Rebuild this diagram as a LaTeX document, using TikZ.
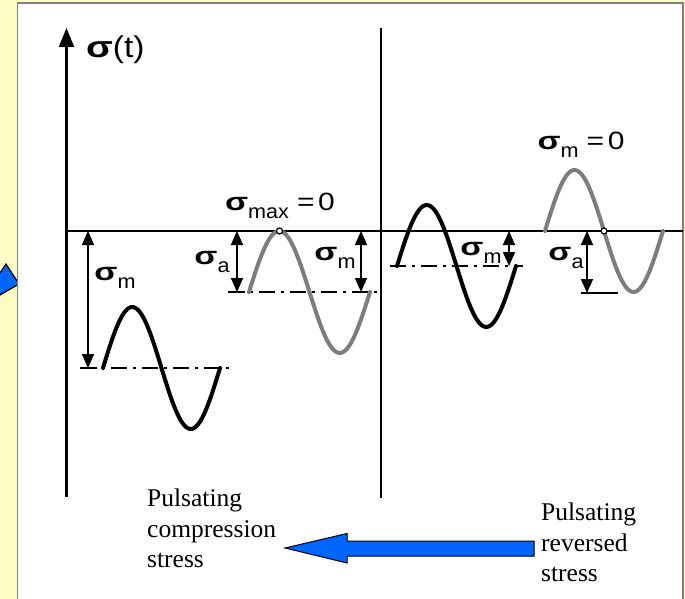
\documentclass[tikz,border=0pt]{standalone}
\usepackage{fontspec}
\usepackage{graphicx}
\setmainfont{Liberation Sans}
\newfontfamily\serifnm{Liberation Serif}
\usetikzlibrary{arrows.meta}
\definecolor{bgyellow}{RGB}{255,251,196}
\definecolor{arrowblue}{RGB}{0,102,255}
\definecolor{wavegray}{RGB}{125,125,125}
\newcommand\bsig{\scalebox{1.35}[1]{\textbf{σ}}}
\newcommand\sg[1]{\bsig\raisebox{-0.3em}{\fontsize{20}{20}\selectfont\scalebox{1.08}[1]{#1}}}
\newcommand\eqz{\hspace{8pt}\scalebox{1.2}[1]{=\hspace{3pt}0}}
\tikzset{
  axisline/.style={line width=2.2pt, black},
  dimarrow/.style={line width=1.5pt, {Triangle[length=14pt,width=12pt]}-{Triangle[length=14pt,width=12pt]}},
  meanline/.style={line width=2pt, dash pattern=on 16pt off 6pt on 3pt off 6pt},
  tickline/.style={line width=2pt},
  wave/.style={line width=4pt, line join=round, line cap=round},
  lbl/.style={inner sep=0pt, font=\fontsize{25}{25}\selectfont},
  bottomtext/.style={inner sep=0pt, align=left, anchor=north west, font=\serifnm\fontsize{25.5}{30.5}\selectfont},
  dot/.style={circle, draw=black, fill=white, line width=1.2pt, minimum size=6pt, inner sep=0pt}
}
\begin{document}
\begin{tikzpicture}[x=1pt,y=-1pt]
\useasboundingbox (0,0) rectangle (685,599);
\fill[bgyellow] (0,0) rectangle (685,599);
% blue shape peeking from behind the panel
\filldraw[fill=arrowblue, draw=black, line width=1.2pt] (-4,279) -- (6,264) -- (19,284) -- (0,295) -- cycle;
% white panel
\filldraw[fill=white, draw=gray, line width=1.2pt] (17.5,3) rectangle (683,612);

% axes
\coordinate (ybot) at (66.5,497);
\coordinate (ytop) at (66.5,28);
\coordinate (xstart) at (66.5,231);
\coordinate (xend) at (683,231);
\coordinate (dtop) at (381,28);
\coordinate (dbot) at (381,498);
\draw[axisline, -{Triangle[length=19pt,width=15pt]}] (ybot) -- (ytop);
\draw[axisline] (xstart) -- (xend);
\draw[axisline] (dtop) -- (dbot);
\node[lbl, font=\fontsize{30}{30}\selectfont, anchor=west] (sigt) at (86,50) {\scalebox{1.3}[1]{\textbf{σ}}\scalebox{1.12}[1]{(t)}};

% ---- wave 1 (pulsating compression, black)
\coordinate (m1a) at (80,368);
\coordinate (m1b) at (231,368);
\draw[meanline] (m1a) -- (m1b);
\draw[tickline] (80,368) -- (97,368);
\draw[wave, domain=103:220, samples=60] plot (\x, {368-61*sin((\x-103)/117*360)});
\coordinate (a1t) at (88,231);
\coordinate (a1b) at (88,368);
\draw[dimarrow] (a1t) -- (a1b);
\node[lbl] (l1) at (115,278) {\sg{m}};

% ---- wave 2 (pulsating compression, gray)
\coordinate (m2a) at (228,292);
\coordinate (m2b) at (377,292);
\draw[meanline] (m2a) -- (m2b);
\draw[tickline] (228,292) -- (245,292);
\draw[wave, wavegray, domain=249:370, samples=60] plot (\x, {292-61*sin((\x-249)/121*360)});
\coordinate (a2t) at (237,231);
\coordinate (a2b) at (237,292);
\draw[dimarrow] (a2t) -- (a2b);
\coordinate (a3t) at (361,231);
\coordinate (a3b) at (361,292);
\draw[dimarrow] (a3t) -- (a3b);
\node[dot] (c1) at (279.5,231) {};
\node[lbl] (l2) at (212,262) {\sg{a}};
\node[lbl] (l3) at (335,258) {\sg{m}};
\node[lbl] (l4) at (280,206) {\sg{max}\eqz};

% ---- wave 3 (pulsating, black)
\coordinate (m3a) at (390,266);
\coordinate (m3b) at (523,266);
\draw[meanline] (m3a) -- (m3b);
\draw[wave, domain=397:516, samples=60] plot (\x, {266-61*sin((\x-397)/119*360)});
\coordinate (a4t) at (509,231);
\coordinate (a4b) at (509,266);
\draw[dimarrow] (a4t) -- (a4b);
\node[lbl] (l5) at (481,253) {\sg{m}};

% ---- wave 4 (reversed, gray)
\draw[wave, wavegray, domain=545:663, samples=60] plot (\x, {231-61*sin((\x-545)/118*360)});
\coordinate (t4a) at (581,293);
\coordinate (t4b) at (618,293);
\draw[tickline] (t4a) -- (t4b);
\coordinate (a5t) at (587,231);
\coordinate (a5b) at (587,293);
\draw[dimarrow] (a5t) -- (a5b);
\node[dot] (c2) at (604,231) {};
\node[lbl] (l6) at (566,258) {\sg{a}};
\node[lbl] (l7) at (581,145) {\sg{m}\eqz};

% ---- bottom texts and arrow
\node[bottomtext] (comp) at (147,489) {Pulsating\\compression\\stress};
\node[bottomtext] (rev) at (541,503) {Pulsating\\reversed\\stress};
\coordinate (tip) at (285,548);
\filldraw[fill=arrowblue, draw=black, line width=1pt]
  (tip) -- (347,533.5) -- (347,541) -- (534,541) -- (534,556) -- (347,556) -- (347,563) -- cycle;
\end{tikzpicture}
\end{document}
